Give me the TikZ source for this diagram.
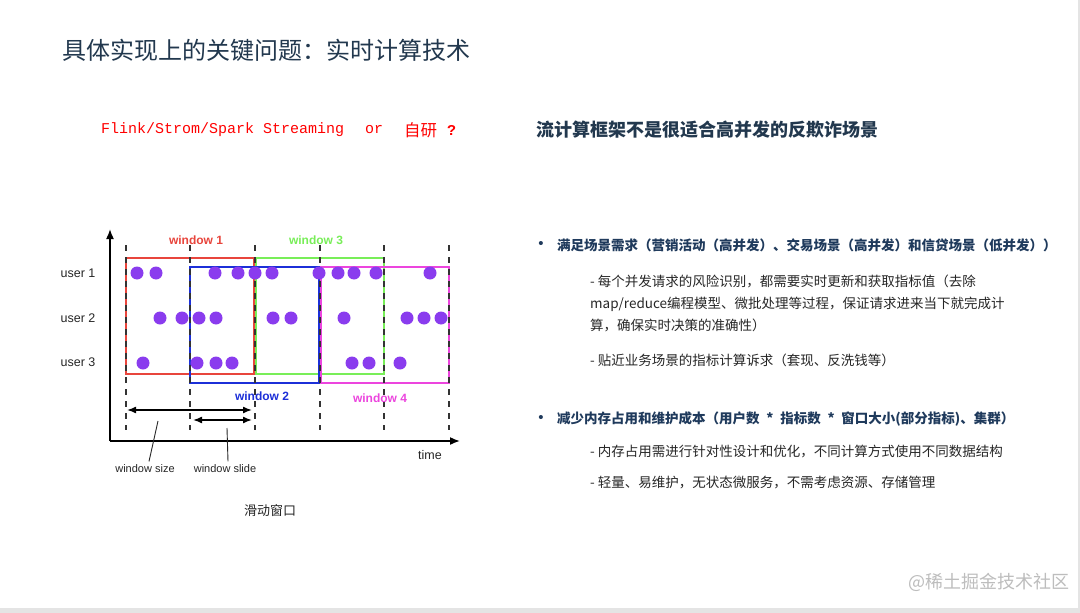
\documentclass[tikz,border=0pt]{standalone}
\usepackage{fontspec}
\usepackage{xcolor}
\usetikzlibrary{arrows.meta}
\setmainfont{Liberation Sans}
\newfontfamily\cjk{Noto Sans CJK SC}
\newfontfamily\monofont{Liberation Mono}
\definecolor{titleblue}{HTML}{22384E}
\definecolor{headblue}{HTML}{1F3A5C}
\definecolor{textdark}{HTML}{262626}
\definecolor{framegray}{HTML}{E4E4E4}
\definecolor{winred}{HTML}{E8453C}
\definecolor{winblue}{HTML}{1C2FD8}
\definecolor{wingreen}{HTML}{78EE58}
\definecolor{winpink}{HTML}{EC45DE}
\definecolor{dotpurple}{HTML}{8A3CEE}
\definecolor{marksgray}{HTML}{BDBDBD}

\tikzset{
  winbox/.style={line width=2.5pt},
  winlabel/.style={font=\fontsize{12}{14}\selectfont\bfseries},
  userlabel/.style={font=\fontsize{12.5}{14}\selectfont, text=textdark},
  smalllabel/.style={font=\fontsize{11}{13}\selectfont, text=textdark},
  tick/.style={line width=1.8pt, dash pattern=on 6pt off 6pt, black!80},
  span/.style={{Latex[length=9pt,width=7pt]}-{Latex[length=9pt,width=7pt]}, line width=1.5pt},
  pointer/.style={line width=0.9pt, textdark},
  headline/.style={anchor=west, inner sep=0, text=headblue, font=\cjk\bfseries\fontsize{13.5}{20}\selectfont},
  subline/.style={anchor=west, inner sep=0, text=textdark, font=\cjk\fontsize{13.5}{22}\selectfont, align=left},
  bulletmark/.style={anchor=center, inner sep=0, text=headblue, font=\fontsize{15}{16}\selectfont},
}

\begin{document}
\begin{tikzpicture}[x=1pt, y=-1pt]
    \useasboundingbox (0,0) rectangle (1080,613);
    \fill[white] (0,0) rectangle (1080,613);
    \fill[framegray] (0,608) rectangle (1080,613);
    \fill[framegray] (1078,0) rectangle (1080,613);

    % titles
    \node[anchor=west, inner sep=0, text=titleblue, font=\cjk\fontsize{24}{28}\selectfont] (title) at (62,50) {具体实现上的关键问题：实时计算技术};
    \node[anchor=west, inner sep=0, text=red, font=\monofont\fontsize{15}{18}\selectfont] (engines) at (101,130) {Flink/Strom/Spark Streaming};
    \node[anchor=west, inner sep=0, text=red, font=\monofont\fontsize{15}{18}\selectfont] (orword) at (365,130) {or};
    \node[anchor=west, inner sep=0, text=red, font=\cjk\fontsize{16.5}{18}\selectfont] (selfdev) at (404,130) {自研};
    \node[anchor=west, inner sep=0, text=red, font=\monofont\bfseries\fontsize{15}{18}\selectfont] (qmark) at (447,130) {?};
    \node[anchor=west, inner sep=0, text=titleblue, font=\cjk\bfseries\fontsize{18}{22}\selectfont] (claim) at (536,130) {流计算框架不是很适合高并发的反欺诈场景};

    % sliding window chart
    \coordinate (origin) at (110,441);
    \coordinate (ytip) at (110,229);
    \coordinate (xtip) at (460,441);
    \draw[line width=1.6pt, -{Latex[length=10pt,width=8pt]}] (origin) -- (ytip);
    \draw[line width=1.6pt, -{Latex[length=10pt,width=8pt]}] (origin) -- (xtip);

    \draw[winbox, winred] (126,258) rectangle (254,374);
    \draw[winbox, wingreen] (256,258) rectangle (384,374);
    \draw[winbox, winblue] (190,267) rectangle (319,383);
    \draw[winbox, winpink] (321,267) rectangle (449,383);

    \foreach \tx [count=\i] in {126,190,255,320,384,449} {
        \coordinate (t\i) at (\tx,430);
        \draw[tick] (\tx,245) -- (t\i);
    }

    \foreach \dx in {137,156,215,238,255,272,319,338,354,376,430}
        \fill[dotpurple] (\dx,273) circle (6.5pt);
    \foreach \dx in {160,182,199,216,273,291,344,407,424,441}
        \fill[dotpurple] (\dx,318) circle (6.5pt);
    \foreach \dx in {143,197,216,232,352,369,400}
        \fill[dotpurple] (\dx,363) circle (6.5pt);

    \node[userlabel] (user1) at (78,273) {user 1};
    \node[userlabel] (user2) at (78,318) {user 2};
    \node[userlabel] (user3) at (78,362) {user 3};

    \node[winlabel, text=winred] (win1) at (196,240) {window 1};
    \node[winlabel, text=wingreen] (win3) at (316,240) {window 3};
    \node[winlabel, text=winblue] (win2) at (262,396) {window 2};
    \node[winlabel, text=winpink] (win4) at (380,398) {window 4};

    \coordinate (sizeL) at (127,410);
    \coordinate (sizeR) at (252,410);
    \coordinate (slideL) at (193,420);
    \coordinate (slideR) at (252,420);
    \draw[span] (sizeL) -- (sizeR);
    \draw[span] (slideL) -- (slideR);

    \node[smalllabel] (wsize) at (145,469) {window size};
    \node[smalllabel] (wslide) at (225,469) {window slide};
    \node[userlabel] (time) at (430,455) {time};
    \coordinate (psize) at (158,421);
    \coordinate (pslide) at (227,428);
    \draw[pointer] (psize) -- ([xshift=4pt]wsize.north);
    \draw[pointer] (pslide) -- ([xshift=3pt]wslide.north);

    \node[inner sep=0, text=textdark, font=\cjk\fontsize{13}{15}\selectfont] (caption) at (270,511) {滑动窗口};

    % right column
    \node[bulletmark] (dot1) at (541,245) {•};
    \node[headline] (need) at (557,245) {满足场景需求（营销活动（高并发）、交易场景（高并发）和信贷场景（低并发））};
    \node[subline, anchor=north west] (need1) at (590,275) {- 每个并发请求的风险识别，都需要实时更新和获取指标值（去除\\map/reduce编程模型、微批处理等过程，保证请求进来当下就完成计\\算，确保实时决策的准确性）};
    \node[subline] (need2) at (590,360) {- 贴近业务场景的指标计算诉求（套现、反洗钱等）};

    \node[bulletmark] (dot2) at (541,419) {•};
    \node[headline] (cost) at (557,419) {减少内存占用和维护成本（用户数{\enspace}*{\enspace}指标数{\enspace}*{\enspace}窗口大小(部分指标)、集群）};
    \node[subline] (cost1) at (590,452) {- 内存占用需进行针对性设计和优化，不同计算方式使用不同数据结构};
    \node[subline] (cost2) at (590,483) {- 轻量、易维护，无状态微服务，不需考虑资源、存储管理};

    \node[anchor=east, inner sep=0, text=marksgray, font=\cjk\fontsize{18}{20}\selectfont] (mark) at (1070,582) {@稀土掘金技术社区};
\end{tikzpicture}
\end{document}
